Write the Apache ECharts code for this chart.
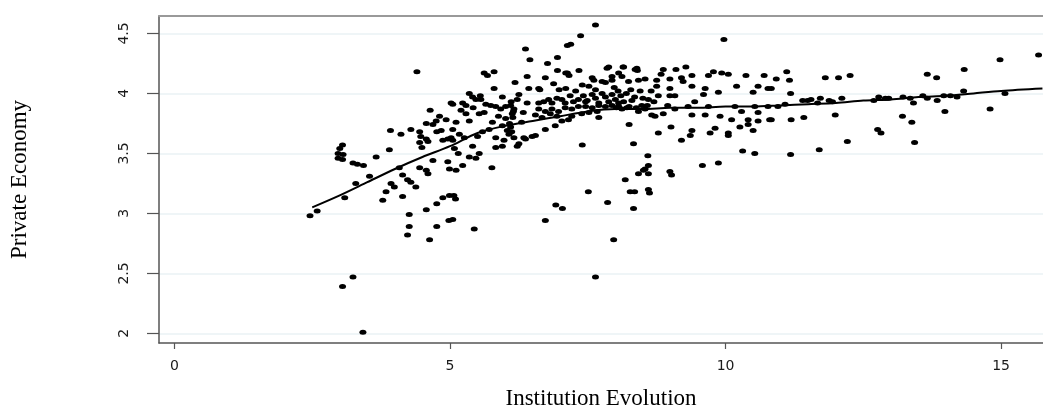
<!DOCTYPE html>
<html>
<head>
<meta charset="utf-8">
<script src="https://cdn.jsdelivr.net/npm/echarts@6/dist/echarts.min.js"></script>
<style>
  html, body { margin: 0; padding: 0; background: #fff; }
  #chart { width: 1043px; height: 415px; }
</style>
</head>
<body>
<div id="chart"></div>
<script>
// tick labels
const xTicks = [0, 5, 10, 15];
const yTicks = [2, 2.5, 3, 3.5, 4, 4.5];

// scatter points, grouped by x range
const pointsLow = [
  [2.46,2.98],[2.59,3.02],[2.97,3.46],[2.97,3.50],[3.00,3.54],[3.05,3.57],[3.06,3.49],[3.05,3.45],
  [3.09,3.13],[3.24,3.42],[3.32,3.41],[3.43,3.40],[3.29,3.25],[3.54,3.31],[3.66,3.47],[3.90,3.53],
  [3.92,3.69],[4.11,3.66],[4.29,3.70],[4.08,3.38],[4.14,3.32],[4.23,3.28],[4.29,3.26],[4.38,3.22],
  [3.93,3.25],[3.99,3.22],[3.84,3.18],[3.78,3.11],[4.14,3.14],[4.45,3.38],[4.26,2.99],[4.26,2.89],
  [4.23,2.82],[3.24,2.47],[3.05,2.39],[3.42,2.01],[4.40,4.18],[4.45,3.68],[4.47,3.64],[4.45,3.59],
  [4.49,3.55]
];

const pointsMid = [
  [4.64,3.86],[4.81,3.81],[4.93,3.78],[4.75,3.77],[4.57,3.75],[4.69,3.74],[4.57,3.62],[4.60,3.60],
  [4.76,3.68],[4.84,3.69],[4.87,3.61],[4.96,3.62],[5.02,3.63],[5.02,3.92],[4.57,3.36],[4.60,3.33],
  [4.69,3.44],[4.96,3.43],[4.99,3.37],[4.57,3.03],[4.76,3.08],[4.87,3.13],[4.99,3.15],[4.76,2.89],
  [4.63,2.78],[4.98,2.94],
  [5.62,4.17],[5.68,4.15],[5.80,4.18],[6.18,4.09],[6.37,4.37],[6.45,4.28],[6.40,4.14],[5.80,4.04],
  [6.43,4.04],[5.05,3.91],[5.23,3.92],[5.29,3.90],[5.41,3.97],[5.47,3.95],[5.56,3.95],[5.65,3.91],
  [5.74,3.90],[5.83,3.89],[5.92,3.87],[6.01,3.89],[6.10,3.90],[6.16,3.87],[6.22,3.95],[6.25,3.99],
  [5.95,3.97],[5.29,3.83],[5.53,3.83],[5.11,3.76],[5.35,3.77],[5.77,3.76],[6.01,3.79],[6.13,3.83],
  [5.05,3.70],[5.17,3.66],[5.26,3.63],[5.50,3.64],[5.59,3.68],[5.71,3.70],[5.83,3.63],[5.98,3.61],
  [6.07,3.66],[6.16,3.63],[6.25,3.58],[6.34,3.63],[6.49,3.64],[5.41,3.56],[5.53,3.50],[5.47,3.46],
  [5.35,3.47],[5.83,3.55],[5.95,3.56],[5.23,3.40],[5.11,3.36],[5.08,3.54],[5.05,3.61],[5.76,3.38],
  [5.44,2.87],[5.05,2.95],[5.07,3.15],[5.10,3.12],[6.10,3.72],[6.12,3.68],[6.14,3.80],[6.08,3.75],
  [6.15,3.85],[6.11,3.93],[5.95,3.73],[6.04,3.69],[6.22,3.56],[6.37,3.62],[5.35,4.00],[5.55,3.98],
  [5.20,3.86],[5.42,3.88],[5.62,3.84],[5.88,3.81],[6.30,3.76],[6.40,3.92],[6.33,3.84],[5.15,3.50]
];

const pointsCore = [
  [6.77,4.25],[6.95,4.30],[7.13,4.40],[7.19,4.41],[7.37,4.48],[7.64,4.57],[7.85,4.21],[6.95,4.19],
  [7.13,4.17],[7.16,4.15],[7.34,4.19],[6.73,4.13],[6.63,4.03],[7.61,4.11],[7.82,4.09],[7.10,4.17],
  [7.88,4.22],[8.06,4.17],[7.58,4.13],[7.76,4.10],[7.94,4.11],[6.61,4.04],[6.98,4.03],[7.10,4.04],
  [7.40,4.07],[7.52,4.06],[7.64,4.03],[8.14,4.22],[8.39,4.21],[8.40,4.19],[8.15,4.22],[8.36,4.20],
  [6.61,3.92],[6.70,3.93],[6.79,3.95],[6.85,3.92],[6.94,3.96],[7.03,3.95],[7.09,3.92],[7.18,3.98],
  [7.24,3.93],[7.33,3.95],[7.42,3.98],[7.49,3.94],[7.58,3.99],[7.64,3.96],[7.70,3.92],[7.76,4.00],
  [7.82,3.97],[7.88,3.93],[7.94,3.99],[8.00,3.95],[8.06,3.92],[6.61,3.87],[6.73,3.85],[6.85,3.87],
  [6.97,3.85],[7.09,3.88],[7.21,3.87],[7.33,3.89],[7.46,3.89],[7.58,3.88],[7.70,3.90],[7.82,3.89],
  [7.94,3.90],[8.06,3.89],[6.55,3.82],[6.67,3.80],[6.82,3.83],[6.94,3.81],[7.03,3.77],[7.21,3.81],
  [7.39,3.83],[7.52,3.84],[7.67,3.85],[6.55,3.65],[6.73,3.70],[6.91,3.73],[7.15,3.78],[7.70,3.80],
  [7.40,3.57],[6.92,3.07],[7.04,3.04],[6.73,2.94],[7.51,3.18],[7.86,3.09],[7.97,2.78],[7.64,2.47],
  [8.18,3.28],[8.27,3.18],[8.35,3.18],[8.33,3.04],[8.42,3.33],[8.25,3.74],[8.33,3.58],
  [7.94,4.14],[8.12,4.14],[8.24,4.10],[8.42,4.11],[7.98,4.05],[8.05,4.02],[8.10,3.98],[8.20,4.00],
  [8.28,4.03],[8.35,3.97],[8.45,4.02],[8.50,3.96],[8.02,3.88],[8.12,3.87],[8.25,3.89],[8.38,3.88],
  [8.48,3.90],[8.15,3.93],[8.30,3.94],[8.42,3.85],[8.21,3.88],[6.88,4.08],[7.28,4.02],[7.46,3.93]
];

const pointsRight = [
  [8.54,4.12],[8.87,4.20],[9.10,4.20],[9.28,4.22],[8.83,4.16],[9.20,4.13],[9.23,4.10],[9.39,4.15],
  [9.69,4.15],[9.78,4.18],[9.93,4.17],[10.05,4.16],[10.37,4.15],[10.70,4.15],[9.97,4.45],[8.75,4.11],
  [8.75,4.06],[8.99,4.12],[8.99,4.04],[9.39,4.06],[9.63,4.04],[9.87,4.01],[10.20,4.06],[10.59,4.06],
  [10.77,4.04],[10.50,4.01],[8.78,3.98],[8.99,3.98],[9.08,3.98],[9.44,3.93],[9.60,3.99],[9.08,3.87],
  [9.32,3.89],[9.69,3.89],[10.17,3.89],[10.53,3.89],[10.77,3.89],[8.66,3.82],[8.72,3.81],[8.87,3.83],
  [9.39,3.82],[9.63,3.82],[9.90,3.81],[10.11,3.78],[10.29,3.85],[10.41,3.78],[10.59,3.84],[10.41,3.74],
  [10.59,3.77],[10.80,3.78],[9.01,3.72],[8.78,3.67],[9.39,3.69],[9.36,3.65],[9.20,3.61],[9.72,3.67],
  [9.81,3.71],[10.05,3.67],[10.05,3.65],[10.26,3.72],[10.50,3.69],[10.31,3.52],[10.53,3.50],[8.59,3.48],
  [9.87,3.42],[9.58,3.40],[8.60,3.40],[8.51,3.36],[8.60,3.33],[8.99,3.35],[9.02,3.32],[8.60,3.20],
  [8.62,3.17],[8.54,3.37],[8.60,3.95],[8.65,4.02],[8.70,3.93],[8.58,3.90],[8.54,3.87],[8.95,3.90]
];

const pointsFar = [
  [10.92,4.12],[11.11,4.18],[11.16,4.11],[11.18,4.00],[10.83,4.04],[11.81,4.13],[12.05,4.13],[12.26,4.15],
  [13.66,4.16],[13.83,4.13],[14.33,4.20],[14.98,4.28],[15.68,4.32],[13.41,3.92],[13.98,3.85],[14.80,3.87],
  [10.83,3.78],[11.19,3.78],[11.42,3.80],[11.99,3.82],[13.21,3.81],[13.38,3.76],[12.76,3.70],[12.82,3.67],
  [12.21,3.60],[11.70,3.53],[13.43,3.59],[11.18,3.49],[10.95,3.89],[11.08,3.91],[11.40,3.94],[11.49,3.94],
  [11.55,3.95],[11.67,3.92],[11.72,3.96],[11.88,3.94],[11.94,3.93],[12.11,3.96],[12.69,3.94],[12.78,3.97],
  [12.90,3.96],[12.96,3.96],[13.22,3.97],[13.35,3.96],[13.58,3.98],[13.66,3.96],[13.84,3.94],[13.96,3.98],
  [14.08,3.98],[14.20,3.97],[14.32,4.02],[15.07,4.00]
];

// fitted (smoothed) line
const fitX = [2.5, 3, 3.5, 4, 4.5, 5, 5.5, 6, 6.5, 7, 7.5, 8, 8.5, 9, 9.5, 10, 10.5, 11, 11.5, 12, 12.5, 13, 13.5, 14, 14.5, 15, 15.75];
const fitY = [3.05, 3.15, 3.26, 3.37, 3.47, 3.56, 3.67, 3.73, 3.77, 3.81, 3.85, 3.87, 3.87, 3.88, 3.88, 3.89, 3.89, 3.90, 3.91, 3.92, 3.94, 3.95, 3.97, 3.98, 4.00, 4.02, 4.04];

const allPoints = pointsLow.concat(pointsMid, pointsCore, pointsRight, pointsFar);
const fitLine = fitX.map((x, i) => [x, fitY[i]]);

const xMin = -0.28, xMax = 15.76;
const yMin = 1.92, yMax = 4.645;

var chart = echarts.init(document.getElementById("chart"));
var option = {
  animation: false,
  backgroundColor: "#fff",
  grid: { left: 155, right: 0, top: 16, bottom: 68 },
  xAxis: [
    {
      type: "value",
      min: xMin,
      max: xMax,
      name: "Institution Evolution",
      nameLocation: "middle",
      nameGap: 44,
      nameTextStyle: { fontFamily: "Liberation Serif", fontSize: 23, color: "#000" },
      axisLine: { onZero: false, lineStyle: { color: "#555", width: 1.5 } },
      axisTick: { customValues: xTicks, length: 6, lineStyle: { color: "#555", width: 1.2 } },
      axisLabel: {
        customValues: xTicks,
        margin: 16,
        fontFamily: "DejaVu Sans",
        fontSize: 14,
        color: "#1a1a1a"
      },
      splitLine: { show: false }
    },
    {
      type: "value",
      position: "top",
      min: xMin,
      max: xMax,
      axisLine: { show: true, onZero: false, lineStyle: { color: "#999", width: 2 } },
      axisTick: { show: false },
      axisLabel: { show: false },
      splitLine: { show: false }
    }
  ],
  yAxis: {
    type: "value",
    min: yMin,
    max: yMax,
    name: "Private Economy",
    nameLocation: "middle",
    nameRotate: 90,
    nameGap: 128,
    nameTextStyle: { fontFamily: "Liberation Serif", fontSize: 23, color: "#000" },
    axisLine: { show: true, onZero: false, lineStyle: { color: "#555", width: 1.5 } },
    axisTick: { customValues: yTicks, length: 12, lineStyle: { color: "#555", width: 1.2 } },
    axisLabel: {
      customValues: yTicks,
      rotate: 90,
      margin: 28,
      fontFamily: "DejaVu Sans",
      fontSize: 14,
      color: "#1a1a1a"
    },
    splitLine: { show: true, lineStyle: { color: "#eaf2f5", width: 1.5 } }
  },
  series: [
    {
      type: "scatter",
      data: allPoints,
      symbol: "circle",
      symbolSize: [7, 5],
      itemStyle: { color: "#000", opacity: 1 },
      silent: true
    },
    {
      type: "line",
      data: fitLine,
      showSymbol: false,
      smooth: 0.3,
      lineStyle: { color: "#000", width: 2 },
      silent: true
    }
  ]
};
option && chart.setOption(option);
</script>
</body>
</html>
